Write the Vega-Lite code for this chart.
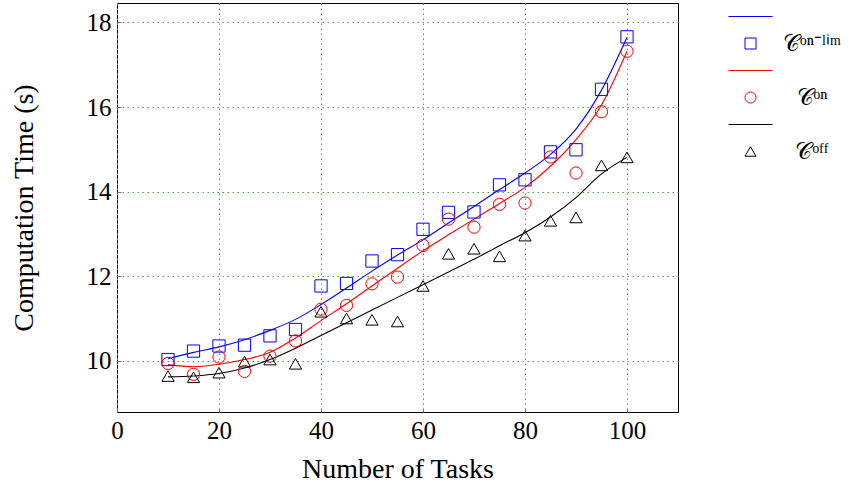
{
  "$schema": "https://vega.github.io/schema/vega-lite/v6.json",
  "width": 561,
  "height": 409,
  "autosize": {"type": "none"},
  "padding": {"left": 117, "top": 3, "right": 177, "bottom": 77},
  "background": "white",
  "config": {
    "font": "Liberation Serif",
    "view": {"stroke": "black", "strokeWidth": 1},
    "axis": {
      "domain": false,
      "ticks": true,
      "tickSize": -4,
      "tickColor": "#777777",
      "grid": true,
      "gridColor": "#44aa44",
      "gridDash": [1.5, 3.5],
      "gridWidth": 1,
      "gridOpacity": 1,
      "labelFlush": false,
      "labelOverlap": false,
      "labelFont": "Liberation Serif",
      "labelFontSize": 25,
      "labelColor": "black",
      "titleFont": "Liberation Serif",
      "titleFontSize": 28,
      "titleFontWeight": "normal",
      "titleColor": "black"
    }
  },
  "datasets": {
    "points": [
      {"n": 10, "t": 10.03, "series": "on-lim"},
      {"n": 15, "t": 10.23, "series": "on-lim"},
      {"n": 20, "t": 10.35, "series": "on-lim"},
      {"n": 25, "t": 10.37, "series": "on-lim"},
      {"n": 30, "t": 10.59, "series": "on-lim"},
      {"n": 35, "t": 10.74, "series": "on-lim"},
      {"n": 40, "t": 11.77, "series": "on-lim"},
      {"n": 45, "t": 11.83, "series": "on-lim"},
      {"n": 50, "t": 12.36, "series": "on-lim"},
      {"n": 55, "t": 12.51, "series": "on-lim"},
      {"n": 60, "t": 13.11, "series": "on-lim"},
      {"n": 65, "t": 13.51, "series": "on-lim"},
      {"n": 70, "t": 13.52, "series": "on-lim"},
      {"n": 75, "t": 14.16, "series": "on-lim"},
      {"n": 80, "t": 14.28, "series": "on-lim"},
      {"n": 85, "t": 14.94, "series": "on-lim"},
      {"n": 90, "t": 14.99, "series": "on-lim"},
      {"n": 95, "t": 16.42, "series": "on-lim"},
      {"n": 100, "t": 17.66, "series": "on-lim"},
      {"n": 10, "t": 9.94, "series": "on"},
      {"n": 15, "t": 9.68, "series": "on"},
      {"n": 20, "t": 10.09, "series": "on"},
      {"n": 25, "t": 9.75, "series": "on"},
      {"n": 30, "t": 10.11, "series": "on"},
      {"n": 35, "t": 10.47, "series": "on"},
      {"n": 40, "t": 11.22, "series": "on"},
      {"n": 45, "t": 11.31, "series": "on"},
      {"n": 50, "t": 11.82, "series": "on"},
      {"n": 55, "t": 11.98, "series": "on"},
      {"n": 60, "t": 12.73, "series": "on"},
      {"n": 65, "t": 13.35, "series": "on"},
      {"n": 70, "t": 13.16, "series": "on"},
      {"n": 75, "t": 13.70, "series": "on"},
      {"n": 80, "t": 13.73, "series": "on"},
      {"n": 85, "t": 14.82, "series": "on"},
      {"n": 90, "t": 14.44, "series": "on"},
      {"n": 95, "t": 15.89, "series": "on"},
      {"n": 100, "t": 17.32, "series": "on"},
      {"n": 10, "t": 9.64, "series": "off"},
      {"n": 15, "t": 9.61, "series": "off"},
      {"n": 20, "t": 9.72, "series": "off"},
      {"n": 25, "t": 9.98, "series": "off"},
      {"n": 30, "t": 10.03, "series": "off"},
      {"n": 35, "t": 9.93, "series": "off"},
      {"n": 40, "t": 11.16, "series": "off"},
      {"n": 45, "t": 11.0, "series": "off"},
      {"n": 50, "t": 10.97, "series": "off"},
      {"n": 55, "t": 10.93, "series": "off"},
      {"n": 60, "t": 11.77, "series": "off"},
      {"n": 65, "t": 12.53, "series": "off"},
      {"n": 70, "t": 12.65, "series": "off"},
      {"n": 75, "t": 12.47, "series": "off"},
      {"n": 80, "t": 12.96, "series": "off"},
      {"n": 85, "t": 13.31, "series": "off"},
      {"n": 90, "t": 13.39, "series": "off"},
      {"n": 95, "t": 14.62, "series": "off"},
      {"n": 100, "t": 14.81, "series": "off"}
    ],
    "fits": [
      {"n": 10, "t": 10.05, "series": "on-lim fit"},
      {"n": 15, "t": 10.2, "series": "on-lim fit"},
      {"n": 20, "t": 10.33, "series": "on-lim fit"},
      {"n": 25, "t": 10.5, "series": "on-lim fit"},
      {"n": 30, "t": 10.72, "series": "on-lim fit"},
      {"n": 35, "t": 10.98, "series": "on-lim fit"},
      {"n": 40, "t": 11.33, "series": "on-lim fit"},
      {"n": 45, "t": 11.72, "series": "on-lim fit"},
      {"n": 50, "t": 12.12, "series": "on-lim fit"},
      {"n": 55, "t": 12.5, "series": "on-lim fit"},
      {"n": 60, "t": 12.86, "series": "on-lim fit"},
      {"n": 65, "t": 13.26, "series": "on-lim fit"},
      {"n": 70, "t": 13.65, "series": "on-lim fit"},
      {"n": 75, "t": 14.05, "series": "on-lim fit"},
      {"n": 80, "t": 14.44, "series": "on-lim fit"},
      {"n": 85, "t": 14.88, "series": "on-lim fit"},
      {"n": 90, "t": 15.48, "series": "on-lim fit"},
      {"n": 95, "t": 16.4, "series": "on-lim fit"},
      {"n": 100, "t": 17.65, "series": "on-lim fit"},
      {"n": 10, "t": 9.91, "series": "on fit"},
      {"n": 15, "t": 9.86, "series": "on fit"},
      {"n": 20, "t": 9.92, "series": "on fit"},
      {"n": 25, "t": 10.03, "series": "on fit"},
      {"n": 30, "t": 10.2, "series": "on fit"},
      {"n": 35, "t": 10.54, "series": "on fit"},
      {"n": 40, "t": 10.95, "series": "on fit"},
      {"n": 45, "t": 11.35, "series": "on fit"},
      {"n": 50, "t": 11.77, "series": "on fit"},
      {"n": 55, "t": 12.19, "series": "on fit"},
      {"n": 60, "t": 12.6, "series": "on fit"},
      {"n": 65, "t": 12.98, "series": "on fit"},
      {"n": 70, "t": 13.35, "series": "on fit"},
      {"n": 75, "t": 13.72, "series": "on fit"},
      {"n": 80, "t": 14.1, "series": "on fit"},
      {"n": 85, "t": 14.6, "series": "on fit"},
      {"n": 90, "t": 15.23, "series": "on fit"},
      {"n": 95, "t": 16.05, "series": "on fit"},
      {"n": 100, "t": 17.32, "series": "on fit"},
      {"n": 10, "t": 9.62, "series": "off fit"},
      {"n": 15, "t": 9.64, "series": "off fit"},
      {"n": 20, "t": 9.7, "series": "off fit"},
      {"n": 25, "t": 9.83, "series": "off fit"},
      {"n": 30, "t": 10.03, "series": "off fit"},
      {"n": 35, "t": 10.3, "series": "off fit"},
      {"n": 40, "t": 10.6, "series": "off fit"},
      {"n": 45, "t": 10.9, "series": "off fit"},
      {"n": 50, "t": 11.2, "series": "off fit"},
      {"n": 55, "t": 11.5, "series": "off fit"},
      {"n": 60, "t": 11.8, "series": "off fit"},
      {"n": 65, "t": 12.1, "series": "off fit"},
      {"n": 70, "t": 12.4, "series": "off fit"},
      {"n": 75, "t": 12.72, "series": "off fit"},
      {"n": 80, "t": 13.03, "series": "off fit"},
      {"n": 85, "t": 13.4, "series": "off fit"},
      {"n": 90, "t": 13.86, "series": "off fit"},
      {"n": 95, "t": 14.42, "series": "off fit"},
      {"n": 100, "t": 14.81, "series": "off fit"}
    ]
  },
  "encoding": {
    "x": {
      "field": "n",
      "type": "quantitative",
      "scale": {"domain": [0, 110], "nice": false, "zero": false},
      "axis": {"title": "Number of Tasks", "values": [0, 20, 40, 60, 80, 100], "labelPadding": 10, "titlePadding": 12}
    },
    "y": {
      "field": "t",
      "type": "quantitative",
      "scale": {"domain": [8.79, 18.46], "nice": false, "zero": false},
      "axis": {"title": "Computation Time (s)", "values": [10, 12, 14, 16, 18], "labelPadding": 10, "titlePadding": 48}
    },
    "color": {
      "field": "series",
      "type": "nominal",
      "scale": {
        "domain": ["on-lim fit", "on-lim", "on fit", "on", "off fit", "off"],
        "range": ["#0000ff", "#0000ff", "#ff0000", "#ff0000", "#000000", "#000000"]
      },
      "legend": {
        "title": null,
        "orient": "none",
        "legendX": 622,
        "legendY": 2,
        "padding": 0,
        "symbolSize": 121,
        "symbolStrokeWidth": 1,
        "labelFontSize": 23,
        "labelFont": "Liberation Serif",
        "labelColor": "black",
        "labelAlign": "center",
        "labelOffset": 50,
        "rowPadding": 3,
        "labelExpr": "datum.value == 'on-lim' ? '𝒞ᵒⁿ⁻ˡⁱᵐ' : datum.value == 'on' ? '𝒞ᵒⁿ' : datum.value == 'off' ? '𝒞ᵒᶠᶠ' : ''"
      }
    }
  },
  "layer": [
    {
      "data": {"name": "fits"},
      "mark": {"type": "line", "interpolate": "monotone", "strokeWidth": 1.1}
    },
    {
      "data": {"name": "points"},
      "mark": {"type": "point", "filled": false, "strokeWidth": 1, "opacity": 1},
      "encoding": {
        "shape": {
          "field": "series",
          "type": "nominal",
          "scale": {
            "domain": ["on-lim fit", "on-lim", "on fit", "on", "off fit", "off"],
            "range": ["M-4,0H4", "square", "M-4,0H4", "circle", "M-4,0H4", "triangle-up"]
          },
          "legend": {
            "title": null,
            "orient": "none",
            "legendX": 622,
            "legendY": 2,
            "padding": 0,
            "symbolSize": 121,
            "symbolStrokeWidth": 1,
            "labelFontSize": 23,
            "labelFont": "Liberation Serif",
            "labelColor": "black",
            "labelAlign": "center",
            "labelOffset": 50,
            "rowPadding": 3,
            "labelExpr": "datum.value == 'on-lim' ? '𝒞ᵒⁿ⁻ˡⁱᵐ' : datum.value == 'on' ? '𝒞ᵒⁿ' : datum.value == 'off' ? '𝒞ᵒᶠᶠ' : ''"
          }
        },
        "size": {
          "field": "series",
          "type": "nominal",
          "scale": {"domain": ["on-lim", "on", "off"], "range": [150, 150, 95]},
          "legend": null
        }
      }
    }
  ]
}
